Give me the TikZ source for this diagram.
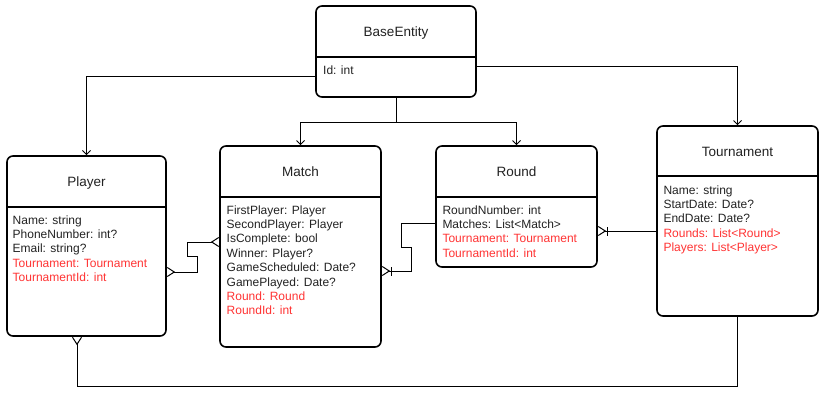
\documentclass[tikz,border=0pt]{standalone}
\usepackage{fontspec}
\setmainfont{Liberation Sans}
\usepackage{xcolor}
\usepackage{tikz}
\usetikzlibrary{arrows.meta}

\definecolor{ink}{HTML}{222222}
\definecolor{fkred}{HTML}{FF3333}

\begin{document}
\begin{tikzpicture}[x=1pt, y=-1pt,
  entity/.style={draw, line width=1.6pt, rounded corners=6pt, inner sep=0pt},
  sepline/.style={line width=1.6pt},
  etitle/.style={anchor=base, inner sep=0pt, font=\fontsize{13.5}{16}\selectfont, text=ink},
  attr/.style={anchor=base west, inner sep=0pt, font=\fontsize{12}{14}\selectfont},
  link/.style={line width=1pt},
  isa/.style={link, -{Straight Barb[length=4pt,width=8pt]}},
  manymany/.style={link, {Straight Barb[reversed,length=7pt,width=9pt]}-{Straight Barb[reversed,length=7pt,width=9pt]}},
  onemany/.style={link, -{Bar[width=9pt,sep=1pt]Straight Barb[reversed,length=7pt,width=9pt]}},
  manyend/.style={link, -{Straight Barb[reversed,length=7pt,width=9pt]}}
]
  \useasboundingbox (0,0) rectangle (823,400);

  % BaseEntity
  \node[entity, minimum width=160pt, minimum height=91pt] (base) at (396,51.5) {};
  \draw[sepline] (base.west |- 0,56.7) -- (base.east |- 0,56.7);
  \node[etitle] (base-t) at (base.center |- 0,36.5) {BaseEntity};
  \node[attr, text=ink] (base-a1) at (323,74) {Id: int};

  % Player
  \node[entity, minimum width=159pt, minimum height=180pt] (player) at (86.5,246) {};
  \draw[sepline] (player.west |- 0,207) -- (player.east |- 0,207);
  \node[etitle] (player-t) at (player.center |- 0,186) {Player};
  \foreach \lbl/\clr [count=\i] in {Name: string/ink, PhoneNumber: int?/ink, Email: string?/ink,
    Tournament: Tournament/fkred, TournamentId: int/fkred}{
    \node[attr, text=\clr] (player-a\i) at (12.5,{224+14.4*(\i-1)}) {\lbl};
  }

  % Match
  \node[entity, minimum width=161pt, minimum height=201pt] (match) at (300.5,246.5) {};
  \draw[sepline] (match.west |- 0,197) -- (match.east |- 0,197);
  \node[etitle] (match-t) at (match.center |- 0,176) {Match};
  \foreach \lbl/\clr [count=\i] in {FirstPlayer: Player/ink, SecondPlayer: Player/ink,
    IsComplete: bool/ink, Winner: Player?/ink, GameScheduled: Date?/ink,
    GamePlayed: Date?/ink, Round: Round/fkred, RoundId: int/fkred}{
    \node[attr, text=\clr] (match-a\i) at (226.5,{214+14.4*(\i-1)}) {\lbl};
  }

  % Round
  \node[entity, minimum width=161pt, minimum height=121pt] (round) at (516.5,206.5) {};
  \draw[sepline] (round.west |- 0,197) -- (round.east |- 0,197);
  \node[etitle] (round-t) at (round.center |- 0,176) {Round};
  \foreach \lbl/\clr [count=\i] in {RoundNumber: int/ink, Matches: List<Match>/ink,
    Tournament: Tournament/fkred, TournamentId: int/fkred}{
    \node[attr, text=\clr] (round-a\i) at (442.3,{214+14.4*(\i-1)}) {\lbl};
  }

  % Tournament
  \node[entity, minimum width=161pt, minimum height=190pt] (tour) at (737.5,221) {};
  \draw[sepline] (tour.west |- 0,176) -- (tour.east |- 0,176);
  \node[etitle] (tour-t) at (tour.center |- 0,156.5) {Tournament};
  \foreach \lbl/\clr [count=\i] in {Name: string/ink, StartDate: Date?/ink, EndDate: Date?/ink,
    Rounds: List<Round>/fkred, Players: List<Player>/fkred}{
    \node[attr, text=\clr] (tour-a\i) at (663.3,{194+14.4*(\i-1)}) {\lbl};
  }

  % Inheritance links
  \draw[isa] (base.west |- 0,76) -| (player.north);
  \draw[isa] (base.east |- 0,66) -| (tour.north);
  \draw[link] (base.south) -- ++(0,25) coordinate (split);
  \draw[isa] (split) -| (match.north);
  \draw[isa] (split) -| (round.north);

  % Relations
  \draw[manymany] (player.east |- 0,272) -- (197,272) -- (197,256) -- (187,256)
    -- (187,242) -- (match.west |- 0,242);
  \draw[onemany] (round.west |- 0,223) -- (401,223) -- (401,247) -- (411,247)
    -- (411,271) -- (match.east |- 0,271);
  \draw[onemany] (tour.west |- 0,231) -- (round.east |- 0,231);
  \draw[manyend] (tour.south) |- (77,386) -- (player.south -| 77,0);
\end{tikzpicture}
\end{document}
